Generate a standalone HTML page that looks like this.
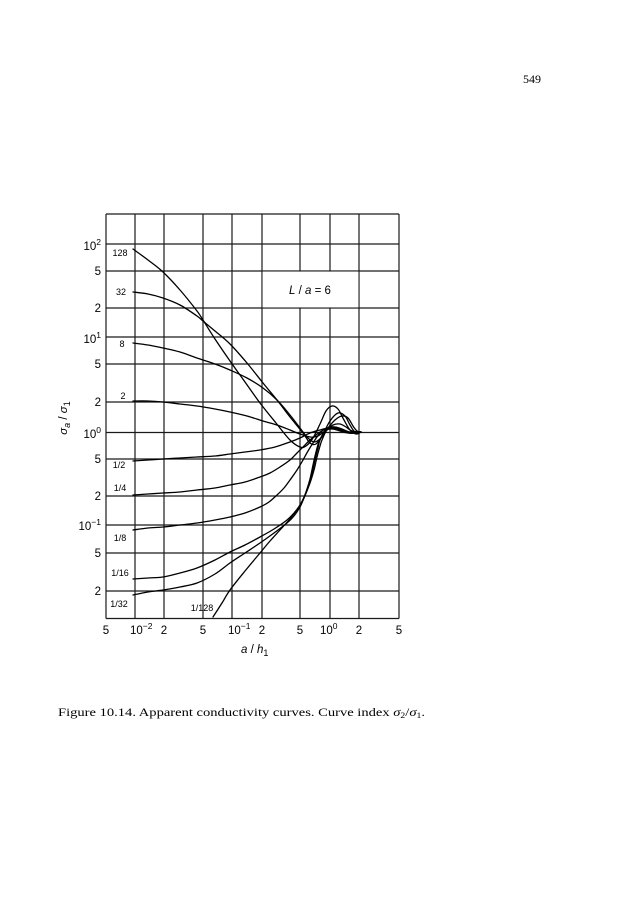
<!DOCTYPE html>
<html>
<head>
<meta charset="utf-8">
<style>
html,body{margin:0;padding:0;background:#fff;}
svg{display:block;}
.g{stroke:#1a1a1a;stroke-width:1.2;fill:none;}
.c{stroke:#000;stroke-width:1.3;fill:none;stroke-linejoin:round;stroke-linecap:round;}
.t{font-family:"Liberation Sans",sans-serif;font-size:11.5px;fill:#000;}
.s{font-family:"Liberation Sans",sans-serif;font-size:9px;fill:#000;}
.cap{font-family:"Liberation Serif",serif;font-size:12px;fill:#000;}
</style>
</head>
<body>
<svg id="chart" width="622" height="900" viewBox="0 0 622 900" xmlns="http://www.w3.org/2000/svg">
<rect x="0" y="0" width="622" height="900" fill="#fff"/>

<text class="cap" x="541" y="83" text-anchor="end">549</text>

<g class="g">
<line x1="106" y1="214" x2="106" y2="618.5"/>
<line x1="135" y1="214" x2="135" y2="618.5"/>
<line x1="164" y1="214" x2="164" y2="618.5"/>
<line x1="203" y1="214" x2="203" y2="618.5"/>
<line x1="232" y1="214" x2="232" y2="618.5"/>
<line x1="262" y1="214" x2="262" y2="618.5"/>
<line x1="300" y1="214" x2="300" y2="618.5"/>
<line x1="330" y1="214" x2="330" y2="618.5"/>
<line x1="359" y1="214" x2="359" y2="618.5"/>
<line x1="399" y1="214" x2="399" y2="618.5"/>
<line x1="106" y1="214" x2="399" y2="214"/>
<line x1="106" y1="244" x2="399" y2="244"/>
<line x1="106" y1="271" x2="399" y2="271"/>
<line x1="106" y1="308" x2="399" y2="308"/>
<line x1="106" y1="337" x2="399" y2="337"/>
<line x1="106" y1="364" x2="399" y2="364"/>
<line x1="106" y1="402" x2="399" y2="402"/>
<line x1="106" y1="432.5" x2="399" y2="432.5"/>
<line x1="106" y1="459" x2="399" y2="459"/>
<line x1="106" y1="496" x2="399" y2="496"/>
<line x1="106" y1="525" x2="399" y2="525"/>
<line x1="106" y1="553" x2="399" y2="553"/>
<line x1="106" y1="591" x2="399" y2="591"/>
<line x1="106" y1="618.5" x2="399" y2="618.5"/>
</g>

<rect x="262.6" y="271.6" width="95.8" height="35.8" fill="#fff"/>
<text class="t" x="310" y="294" text-anchor="middle"><tspan font-style="italic">L</tspan> / <tspan font-style="italic">a</tspan> = 6</text>

<g id="curves">
<polyline class="c" points="133,249 148,260 163,272 180,290 197,311 203,320 215,339 230,361 245,382 260,403 276,423 290,440 300,447 306,446 313,438 320,424 326,411 332,406 338,409 344,420 350,430 356,434 361,432"/>
<polyline class="c" points="133,292 148,294 163,298 180,305 197,316 203,321 215,331 230,344 247,363 263,383 277,400 290,417 303,433 310,443 316,444 322,436 330,421 338,413 345,416 350,425 355,432 361,432"/>
<polyline class="c" points="133,343 148,345 163,348 180,352 197,358 215,364 230,370 247,378 263,388 277,400 290,415 300,428 307,437 314,442 321,438 328,428 335,420 342,416 348,418 353,426 357,431 361,432"/>
<polyline class="c" points="133,401 148,401 163,402 180,404 197,406 215,409 230,412 247,416 263,421 277,425 290,430 300,434 310,437 318,436 326,430 333,425 340,424 346,427 352,431 361,432"/>
<polyline class="c" points="133,461 148,460 163,459 180,458 197,457 215,456 230,454 245,452 260,450 275,447 290,442 300,438 310,433 320,430 328,428 335,428 342,430 350,433 356,433 361,432"/>
<polyline class="c" points="133,495 148,494 163,493 180,492 197,490 215,488 230,485 245,482 260,477 270,473 280,467 290,460 297,453 304,446 310,440 320,432 328,428 335,427 342,429 350,432 361,432"/>
<polyline class="c" points="133,530 148,528 163,527 180,525 197,523 215,520 230,517 245,513 260,507 269,502 277,495 284,488 290,480 297,470 303,460 308,451 313,443 320,433 327,428 334,427 341,429 349,433 361,432"/>
<polyline class="c" points="133,579 148,578 163,577 180,573 197,568 215,560 230,552 245,545 260,537 274,529 287,520 294,513 300,505 305,495 310,483 314,470 317,457 320,446 322,440 327,430 334,428 342,431 350,433 361,432"/>
<polyline class="c" points="133,595 148,592 163,590 180,587 197,583 215,574 230,563 245,553 260,543 274,533 287,523 294,516 300,507 304,498 308,488 312,474 315,460 318,448 320,440 326,430 333,428 341,430 349,433 361,432"/>
<polyline class="c" points="213,617 222,603 230,590 245,571 260,553 270,541 280,530 289,520 297,510 302,502 306,492 310,479 313,465 316,452 319,442 325,431 332,429 340,431 348,433 361,432"/>
</g>

<text class="s" x="120" y="256" text-anchor="middle">128</text>
<text class="s" x="121" y="295" text-anchor="middle">32</text>
<text class="s" x="122" y="347" text-anchor="middle">8</text>
<text class="s" x="123" y="399" text-anchor="middle">2</text>
<text class="s" x="119" y="468" text-anchor="middle">1/2</text>
<text class="s" x="120" y="491" text-anchor="middle">1/4</text>
<text class="s" x="120" y="541" text-anchor="middle">1/8</text>
<text class="s" x="120" y="576" text-anchor="middle">1/16</text>
<text class="s" x="119" y="607" text-anchor="middle">1/32</text>
<text class="s" x="202" y="611" text-anchor="middle">1/128</text>

<text class="t" x="101" y="250" text-anchor="end">10<tspan font-size="8.5" dy="-5">2</tspan></text>
<text class="t" x="101" y="275" text-anchor="end">5</text>
<text class="t" x="101" y="312" text-anchor="end">2</text>
<text class="t" x="101" y="343" text-anchor="end">10<tspan font-size="8.5" dy="-5">1</tspan></text>
<text class="t" x="101" y="368" text-anchor="end">5</text>
<text class="t" x="101" y="406" text-anchor="end">2</text>
<text class="t" x="101" y="438" text-anchor="end">10<tspan font-size="8.5" dy="-5">0</tspan></text>
<text class="t" x="101" y="463" text-anchor="end">5</text>
<text class="t" x="101" y="500" text-anchor="end">2</text>
<text class="t" x="101" y="530" text-anchor="end">10<tspan font-size="8.5" dy="-5">−1</tspan></text>
<text class="t" x="101" y="557" text-anchor="end">5</text>
<text class="t" x="101" y="595" text-anchor="end">2</text>

<text class="t" x="106" y="634" text-anchor="middle">5</text>
<text class="t" x="130" y="634">10<tspan font-size="8.5" dy="-5">−2</tspan></text>
<text class="t" x="164" y="634" text-anchor="middle">2</text>
<text class="t" x="203" y="634" text-anchor="middle">5</text>
<text class="t" x="228" y="634">10<tspan font-size="8.5" dy="-5">−1</tspan></text>
<text class="t" x="262" y="634" text-anchor="middle">2</text>
<text class="t" x="300" y="634" text-anchor="middle">5</text>
<text class="t" x="320" y="634">10<tspan font-size="8.5" dy="-5">0</tspan></text>
<text class="t" x="359" y="634" text-anchor="middle">2</text>
<text class="t" x="399" y="634" text-anchor="middle">5</text>

<text class="t" x="241" y="653" font-size="12.5"><tspan font-style="italic">a</tspan> / <tspan font-style="italic">h</tspan><tspan font-size="9" dy="3">1</tspan></text>
<text class="t" font-size="13" transform="translate(67,418) rotate(-90)" text-anchor="middle"><tspan font-style="italic">σ</tspan><tspan font-size="9" dy="3" font-style="italic">a</tspan><tspan dy="-3"> / </tspan><tspan font-style="italic">σ</tspan><tspan font-size="9" dy="3">1</tspan></text>

<text class="cap" x="58" y="716" textLength="367" lengthAdjust="spacingAndGlyphs">Figure 10.14. Apparent conductivity curves. Curve index <tspan font-style="italic">σ</tspan><tspan font-size="8" dy="2">2</tspan><tspan dy="-2">/</tspan><tspan font-style="italic">σ</tspan><tspan font-size="8" dy="2">1</tspan><tspan dy="-2">.</tspan></text>
</svg>
<script>
(function(){
  var NS="http://www.w3.org/2000/svg";
  var pls=document.querySelectorAll("#curves polyline");
  for(var k=0;k<pls.length;k++){
    var pl=pls[k];
    var pts=pl.getAttribute("points").trim().split(/\s+/).map(function(s){var a=s.split(",");return [parseFloat(a[0]),parseFloat(a[1])];});
    if(pts.length<3) continue;
    var d="M"+pts[0][0]+","+pts[0][1];
    for(var i=0;i<pts.length-1;i++){
      var p0=pts[i>0?i-1:i],p1=pts[i],p2=pts[i+1],p3=pts[i+2<pts.length?i+2:i+1];
      var c1x=p1[0]+(p2[0]-p0[0])/6,c1y=p1[1]+(p2[1]-p0[1])/6;
      var c2x=p2[0]-(p3[0]-p1[0])/6,c2y=p2[1]-(p3[1]-p1[1])/6;
      d+=" C"+c1x.toFixed(2)+","+c1y.toFixed(2)+" "+c2x.toFixed(2)+","+c2y.toFixed(2)+" "+p2[0]+","+p2[1];
    }
    var p=document.createElementNS(NS,"path");
    p.setAttribute("d",d);
    p.setAttribute("class","c");
    pl.parentNode.replaceChild(p,pl);
  }
})();
</script>
</body>
</html>
